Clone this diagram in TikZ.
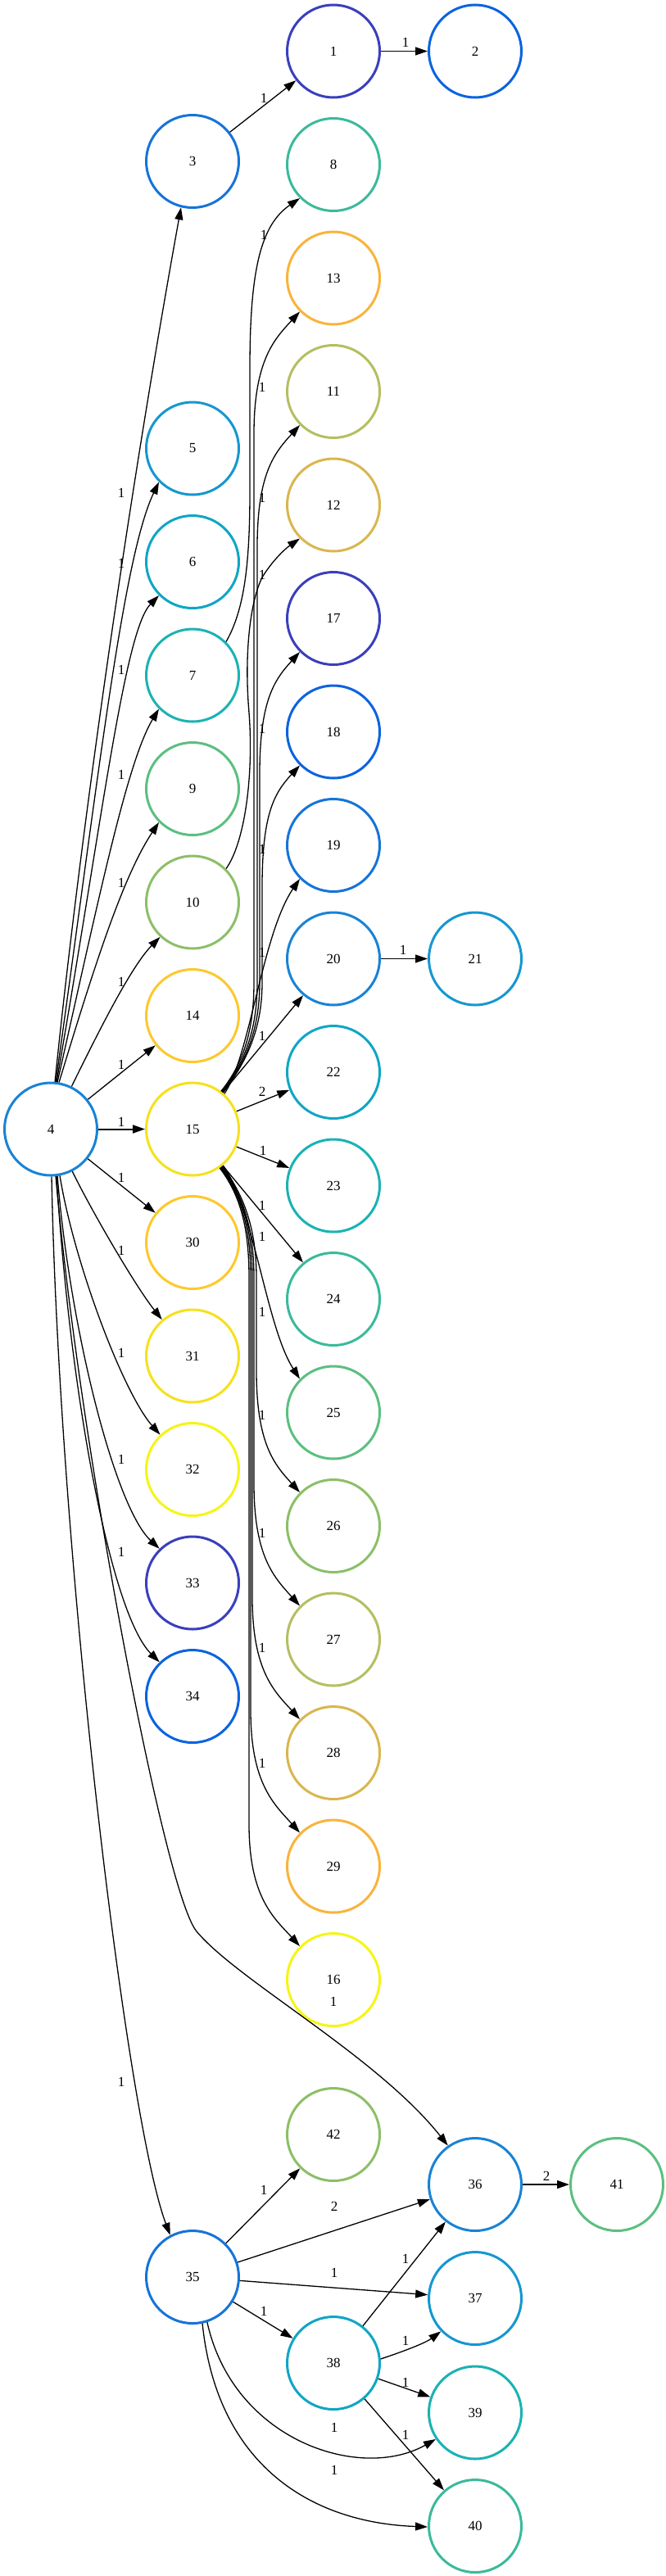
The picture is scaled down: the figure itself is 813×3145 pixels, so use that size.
\documentclass[tikz,border=0pt]{standalone}
\usepackage{fontspec}
\setmainfont{Liberation Serif}
\usetikzlibrary{arrows.meta}
\definecolor{p0}{HTML}{3A3FBD}
\definecolor{p1}{HTML}{0B63E0}
\definecolor{p2}{HTML}{1574D9}
\definecolor{p3}{HTML}{1883D6}
\definecolor{p4}{HTML}{1597D0}
\definecolor{p5}{HTML}{10A6C4}
\definecolor{p6}{HTML}{1BB2B3}
\definecolor{p7}{HTML}{3ABA9B}
\definecolor{p8}{HTML}{5CBF80}
\definecolor{p9}{HTML}{8CBF67}
\definecolor{p10}{HTML}{B5BE62}
\definecolor{p11}{HTML}{D9B64F}
\definecolor{p12}{HTML}{F8B43C}
\definecolor{p13}{HTML}{FEC82C}
\definecolor{p14}{HTML}{F5E11C}
\definecolor{p15}{HTML}{F5F515}
\begin{document}
\begin{tikzpicture}[x=1pt,y=-1pt,
  nd/.style={circle,line width=3pt,minimum size=113pt,inner sep=0pt,font=\fontsize{17}{20}\selectfont},
  ed/.style={-{Triangle[length=15pt,width=10pt]},line width=1.3pt},
  lb/.style={inner sep=0pt,font=\fontsize{17}{20}\selectfont}]
\path[use as bounding box] (0,0) rectangle (813,3145);
% nodes
\node[nd,draw=p0] (n1) at (407,62.5) {1};
\node[nd,draw=p1] (n2) at (580,62.5) {2};
\node[nd,draw=p2] (n3) at (235,197) {3};
\node[nd,draw=p3] (n4) at (62,1378.5) {4};
\node[nd,draw=p4] (n5) at (235,547.5) {5};
\node[nd,draw=p5] (n6) at (235,686) {6};
\node[nd,draw=p6] (n7) at (235,824.5) {7};
\node[nd,draw=p7] (n8) at (407,201) {8};
\node[nd,draw=p8] (n9) at (235,963) {9};
\node[nd,draw=p9] (n10) at (235,1101.5) {10};
\node[nd,draw=p10] (n11) at (407,478) {11};
\node[nd,draw=p11] (n12) at (407,616.5) {12};
\node[nd,draw=p12] (n13) at (407,339.5) {13};
\node[nd,draw=p13] (n14) at (235,1240) {14};
\node[nd,draw=p14] (n15) at (235,1378.5) {15};
\node[nd,draw=p15] (n16) at (407,2417) {16};
\node[nd,draw=p0] (n17) at (407,755) {17};
\node[nd,draw=p1] (n18) at (407,893.5) {18};
\node[nd,draw=p2] (n19) at (407,1032) {19};
\node[nd,draw=p3] (n20) at (407,1170.5) {20};
\node[nd,draw=p4] (n21) at (580,1170.5) {21};
\node[nd,draw=p5] (n22) at (407,1309) {22};
\node[nd,draw=p6] (n23) at (407,1447.5) {23};
\node[nd,draw=p7] (n24) at (407,1586) {24};
\node[nd,draw=p8] (n25) at (407,1724.5) {25};
\node[nd,draw=p9] (n26) at (407,1863) {26};
\node[nd,draw=p10] (n27) at (407,2001.5) {27};
\node[nd,draw=p11] (n28) at (407,2140) {28};
\node[nd,draw=p12] (n29) at (407,2278.5) {29};
\node[nd,draw=p13] (n30) at (235,1517) {30};
\node[nd,draw=p14] (n31) at (235,1655.5) {31};
\node[nd,draw=p15] (n32) at (235,1794) {32};
\node[nd,draw=p0] (n33) at (235,1932.5) {33};
\node[nd,draw=p1] (n34) at (235,2071) {34};
\node[nd,draw=p2] (n35) at (235,2780) {35};
\node[nd,draw=p3] (n36) at (580,2667) {36};
\node[nd,draw=p4] (n37) at (580,2806) {37};
\node[nd,draw=p5] (n38) at (407,2885) {38};
\node[nd,draw=p6] (n39) at (580,2945.5) {39};
\node[nd,draw=p7] (n40) at (580,3084) {40};
\node[nd,draw=p8] (n41) at (753,2667) {41};
\node[nd,draw=p9] (n42) at (407,2606) {42};
% top edges
\draw[ed] (n1) -- (n2);
\draw[ed] (n3) -- (n1);
\draw[ed] (n7.45) .. controls (298,745) and (305,690) .. (305,600) -- (305,450) .. controls (305,330) and (318,275) .. (n8.-135);
% edges from 4 upward
\draw[ed] (n4.85) .. controls (100,1000) and (160,590) .. (n3.-104);
\draw[ed] (n4.84) .. controls (120,950) and (150,680) .. (n5.-135);
\draw[ed] (n4.83) .. controls (125,1000) and (152,770) .. (n6.-135);
\draw[ed] (n4.82) .. controls (120,1100) and (155,930) .. (n7.-135);
\draw[ed] (n4.80) .. controls (115,1180) and (150,1070) .. (n9.-135);
\draw[ed] (n4.64) .. controls (120,1260) and (160,1180) .. (n10.-133);
\draw[ed] (n4) -- (n14);
\draw[ed,line width=2pt] (n4) -- (n15);
\draw[ed] (n4) -- (n30);
% edges from 4 downward
\draw[ed] (n4.-63) .. controls (110,1475) and (165,1570) .. (n31.130);
\draw[ed] (n4.-79) .. controls (90,1540) and (150,1700) .. (n32.133);
\draw[ed] (n4.-82) .. controls (85,1620) and (140,1840) .. (n33.134);
\draw[ed] (n4.-83) .. controls (85,1700) and (135,1970) .. (n34.134);
\draw[ed] (n4.-89) .. controls (72,1900) and (155,2590) .. (n35.118);
\draw[ed] (n4.-84) .. controls (95,1750) and (200,2310) .. (240,2358) .. controls (290,2418) and (460,2510) .. (n36.125);
% 15 upward
\draw[ed] (n15) -- (n20);
\draw[ed] (n15.48) .. controls (305,1290) and (320,1140) .. (n19.-135);
\draw[ed] (n15.50) .. controls (298,1300) and (320,1260) .. (320,1200) -- (320,1083) .. controls (320,993) and (335,968) .. (n18.-135);
\draw[ed] (n15.51) .. controls (298,1300) and (317,1260) .. (317,1200) -- (317,945) .. controls (317,855) and (335,830) .. (n17.-135);
\draw[ed] (n15.52) .. controls (297,1300) and (314,1260) .. (314,1200) -- (314,668) .. controls (314,578) and (335,553) .. (n11.-135);
\draw[ed] (n15.53) .. controls (296,1300) and (310,1260) .. (310,1200) -- (310,530) .. controls (310,440) and (335,414) .. (n13.-135);
\draw[ed] (n10.45) .. controls (298,1030) and (310,950) .. (304,870) .. controls (298,800) and (305,735) .. (320,705) .. controls (332,685) and (348,670) .. (n12.-135);
\draw[ed] (n15) -- (n22);
\draw[ed] (n15) -- (n23);
\draw[ed] (n15) -- (n24);
% 15 downward
\draw[ed] (n15.-50) .. controls (310,1475) and (325,1620) .. (n25.135);
\draw[ed] (n15.-51) .. controls (298,1460) and (313,1500) .. (313,1560) -- (313,1673) .. controls (313,1763) and (335,1788) .. (n26.135);
\draw[ed] (n15.-52) .. controls (297,1460) and (310,1500) .. (310,1560) -- (310,1811) .. controls (310,1901) and (335,1926) .. (n27.135);
\draw[ed] (n15.-53) .. controls (296,1460) and (308,1500) .. (308,1560) -- (308,1950) .. controls (308,2040) and (335,2065) .. (n28.135);
\draw[ed] (n15.-54) .. controls (295,1460) and (306,1500) .. (306,1560) -- (306,2088) .. controls (306,2178) and (335,2203) .. (n29.135);
\draw[ed] (n15.-55) .. controls (294,1460) and (304,1500) .. (304,1560) -- (304,2227) .. controls (304,2317) and (335,2342) .. (n16.135);
\draw[ed] (n20) -- (n21);
% bottom
\draw[ed] (n35) -- (n42);
\draw[ed] (n35) -- (n36);
\draw[ed] (n35) -- (n37);
\draw[ed] (n35) -- (n38);
\draw[ed] (n35.-72) .. controls (285,2980) and (440,3030) .. (n39.214);
\draw[ed] (n35.-78) .. controls (265,3010) and (380,3080) .. (n40.181);
\draw[ed] (n38) -- (n36);
\draw[ed] (n38.5) .. controls (495,2870) and (520,2860) .. (n37.224);
\draw[ed] (n38) -- (n39);
\draw[ed] (n38) -- (n40);
\draw[ed] (n36) -- (n41);
% labels
\node[lb] (a1) at (495,51.7) {1};
\node[lb] (a2) at (322,120) {1};
\node[lb] (a3) at (322,287) {1};
\node[lb] (a4) at (320,473) {1};
\node[lb] (a5) at (320,608) {1};
\node[lb] (a6) at (320,702) {1};
\node[lb] (a7) at (320,890) {1};
\node[lb] (a8) at (320,1037) {1};
\node[lb] (a9) at (320,1163) {1};
\node[lb] (a10) at (320,1265) {1};
\node[lb] (a11) at (320,1333) {2};
\node[lb] (a12) at (321,1405) {1};
\node[lb] (a13) at (320,1472) {1};
\node[lb] (a14) at (320,1510) {1};
\node[lb] (a15) at (320,1602) {1};
\node[lb] (a16) at (320,1728) {1};
\node[lb] (a17) at (320,1872) {1};
\node[lb] (a18) at (320,2012) {1};
\node[lb] (a19) at (320,2153) {1};
\node[lb] (a20) at (492,1160) {1};
\node[lb] (b1) at (148,602) {1};
\node[lb] (b2) at (148,688) {1};
\node[lb] (b3) at (148,818) {1};
\node[lb] (b4) at (148,946) {1};
\node[lb] (b5) at (148,1078) {1};
\node[lb] (b6) at (148,1199) {1};
\node[lb] (b7) at (148,1300) {1};
\node[lb] (b8) at (148,1370) {1};
\node[lb] (b9) at (148,1438) {1};
\node[lb] (b10) at (148,1527) {1};
\node[lb] (b11) at (148,1652) {1};
\node[lb] (b12) at (148,1782) {1};
\node[lb] (b13) at (148,1895) {1};
\node[lb] (b14) at (148,2542) {1};
\node[lb] (b15) at (407,2444) {1};
\node[lb] (c1) at (322,2674) {1};
\node[lb] (c2) at (408,2694) {2};
\node[lb] (c3) at (408,2775) {1};
\node[lb] (c4) at (322,2821.5) {1};
\node[lb] (c5) at (408,2964) {1};
\node[lb] (c6) at (408,3016) {1};
\node[lb] (c7) at (495,2758) {1};
\node[lb] (c8) at (495,2858) {1};
\node[lb] (c9) at (495,2908.5) {1};
\node[lb] (c10) at (495,2973) {1};
\node[lb] (c11) at (667,2657) {2};
\end{tikzpicture}
\end{document}
